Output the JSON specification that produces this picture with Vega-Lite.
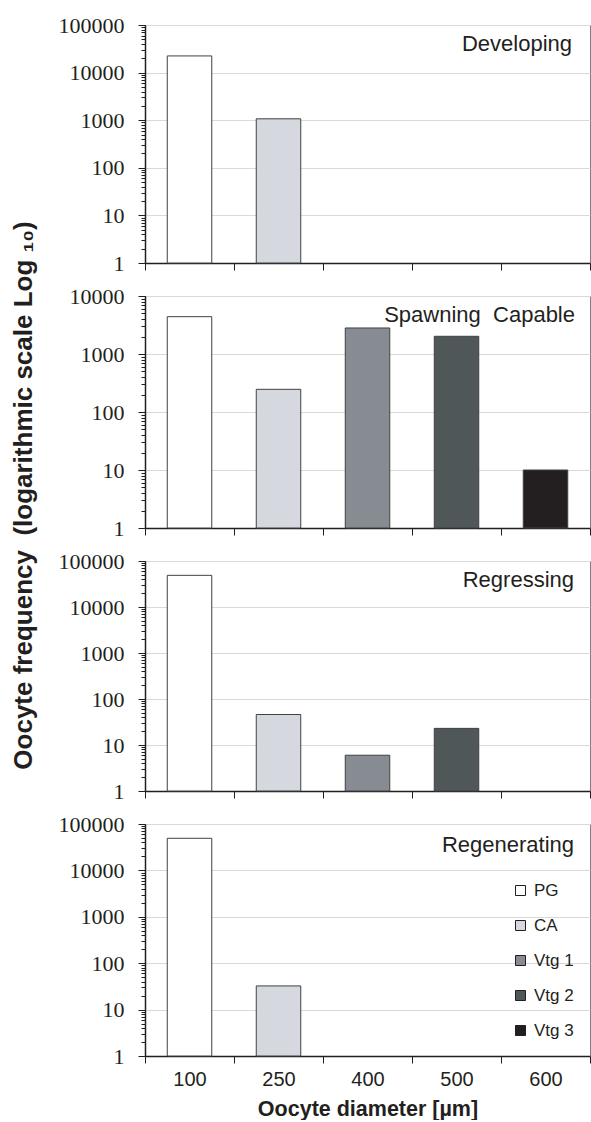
{
  "$schema": "https://vega.github.io/schema/vega-lite/v6.json",
  "padding": {"left": 9, "top": 13, "right": 0, "bottom": 0},
  "background": "white",
  "data": {"values": [
    {"panel": "Developing", "diameter": "100", "stage": "PG", "count": 22400},
    {"panel": "Developing", "diameter": "250", "stage": "CA", "count": 1070},
    {"panel": "Spawning Capable", "diameter": "100", "stage": "PG", "count": 4400},
    {"panel": "Spawning Capable", "diameter": "250", "stage": "CA", "count": 246},
    {"panel": "Spawning Capable", "diameter": "400", "stage": "Vtg 1", "count": 2810},
    {"panel": "Spawning Capable", "diameter": "500", "stage": "Vtg 2", "count": 2020},
    {"panel": "Spawning Capable", "diameter": "600", "stage": "Vtg 3", "count": 10},
    {"panel": "Regressing", "diameter": "100", "stage": "PG", "count": 48800},
    {"panel": "Regressing", "diameter": "250", "stage": "CA", "count": 46},
    {"panel": "Regressing", "diameter": "400", "stage": "Vtg 1", "count": 6},
    {"panel": "Regressing", "diameter": "500", "stage": "Vtg 2", "count": 23},
    {"panel": "Regenerating", "diameter": "100", "stage": "PG", "count": 49200},
    {"panel": "Regenerating", "diameter": "250", "stage": "CA", "count": 32.4}
  ]},
  "bounds": "flush",
  "spacing": 33,
  "resolve": {"scale": {"color": "independent", "y": "independent"}, "legend": {"color": "independent"}},
  "config": {
    "view": {"stroke": "#808080", "strokeWidth": 1},
    "font": "Liberation Sans",
    "axis": {"domainColor": "#231f20", "domainWidth": 1.5, "tickColor": "#231f20", "labelColor": "#231f20", "titleColor": "#231f20"},
    "axisY": {"labelFont": "Liberation Serif", "labelFontSize": 22, "labelPadding": 17, "labelOverlap": false, "tickCount": 100},
    "title": {"font": "Liberation Sans", "fontSize": 22, "fontWeight": "normal", "color": "#231f20", "anchor": "end", "frame": "group", "offset": -42, "dx": -16, "baseline": "alphabetic"}
  },
  "vconcat": [
    {
      "title": {"text": "Developing", "dx": -18},
      "width": 445, "height": 238,
      "transform": [{"filter": "datum.panel == 'Developing'"}],
      "encoding": {
        "x": {"field": "diameter", "type": "nominal", "scale": {"domain": ["100", "250", "400", "500", "600"], "paddingInner": 0, "paddingOuter": 0},
              "axis": {"labels": false, "title": null, "tickBand": "extent", "tickSize": 7}},
        "y2": {"datum": 1}
      },
      "layer": [
        {"mark": {"type": "bar", "stroke": "#404040", "strokeWidth": 1, "width": {"band": 0.5}},
         "encoding": {
           "y": {"field": "count", "type": "quantitative", "scale": {"type": "log", "domain": [1, 100000], "nice": false, "zero": false},
                 "axis": {"title": "Oocyte frequency\u00a0\u00a0(logarithmic scale Log ₁₀)", "titleFont": "Liberation Sans", "titleFontSize": 26, "titleFontWeight": "bold",
                          "titleAngle": -90, "titleX": -122, "titleY": 470, "titleAlign": "center", "titleBaseline": "middle",
                          "tickSize": 4,
                          "values": [1,2,3,4,5,6,7,8,9,10,20,30,40,50,60,70,80,90,100,200,300,400,500,600,700,800,900,1000,2000,3000,4000,5000,6000,7000,8000,9000,10000,20000,30000,40000,50000,60000,70000,80000,90000,100000],
                          "labelExpr": "indexof([1,10,100,1000,10000,100000], datum.value) >= 0 ? '' + datum.value : ''",
                          "grid": true, "gridColor": "#d9d9d9",
                          "gridOpacity": {"condition": {"test": "indexof([1,10,100,1000,10000,100000], datum.value) >= 0", "value": 1}, "value": 0}}},
           "color": {"field": "stage", "type": "nominal", "scale": {"domain": ["PG", "CA", "Vtg 1", "Vtg 2", "Vtg 3"], "range": ["#ffffff", "#d5d8df", "#878c92", "#505758", "#231f20"]}, "legend": null}
         }},
        {"mark": {"type": "bar", "opacity": 0, "width": {"band": 0.5}},
         "encoding": {
           "y": {"field": "count", "type": "quantitative",
                 "axis": {"orient": "left", "title": null, "labels": false, "domain": false, "grid": false, "tickSize": 7, "values": [1, 10, 100, 1000, 10000, 100000]}}
         }}
      ],
      "resolve": {"axis": {"y": "independent"}}
    },
    {
      "title": {"text": "Spawning\u00a0\u00a0Capable", "dx": -15},
      "width": 445, "height": 232,
      "transform": [{"filter": "datum.panel == 'Spawning Capable'"}],
      "encoding": {
        "x": {"field": "diameter", "type": "nominal", "scale": {"domain": ["100", "250", "400", "500", "600"], "paddingInner": 0, "paddingOuter": 0},
              "axis": {"labels": false, "title": null, "tickBand": "extent", "tickSize": 7}},
        "y2": {"datum": 1}
      },
      "layer": [
        {"mark": {"type": "bar", "stroke": "#404040", "strokeWidth": 1, "width": {"band": 0.5}},
         "encoding": {
           "y": {"field": "count", "type": "quantitative", "scale": {"type": "log", "domain": [1, 10000], "nice": false, "zero": false},
                 "axis": {"title": null, "tickSize": 4,
                          "values": [1,2,3,4,5,6,7,8,9,10,20,30,40,50,60,70,80,90,100,200,300,400,500,600,700,800,900,1000,2000,3000,4000,5000,6000,7000,8000,9000,10000],
                          "labelExpr": "indexof([1,10,100,1000,10000,100000], datum.value) >= 0 ? '' + datum.value : ''",
                          "grid": true, "gridColor": "#d9d9d9",
                          "gridOpacity": {"condition": {"test": "indexof([1,10,100,1000,10000,100000], datum.value) >= 0", "value": 1}, "value": 0}}},
           "color": {"field": "stage", "type": "nominal", "scale": {"domain": ["PG", "CA", "Vtg 1", "Vtg 2", "Vtg 3"], "range": ["#ffffff", "#d5d8df", "#878c92", "#505758", "#231f20"]}, "legend": null}
         }},
        {"mark": {"type": "bar", "opacity": 0, "width": {"band": 0.5}},
         "encoding": {
           "y": {"field": "count", "type": "quantitative",
                 "axis": {"orient": "left", "title": null, "labels": false, "domain": false, "grid": false, "tickSize": 7, "values": [1, 10, 100, 1000, 10000]}}
         }}
      ],
      "resolve": {"axis": {"y": "independent"}}
    },
    {
      "title": {"text": "Regressing"},
      "width": 445, "height": 230,
      "transform": [{"filter": "datum.panel == 'Regressing'"}],
      "encoding": {
        "x": {"field": "diameter", "type": "nominal", "scale": {"domain": ["100", "250", "400", "500", "600"], "paddingInner": 0, "paddingOuter": 0},
              "axis": {"labels": false, "title": null, "tickBand": "extent", "tickSize": 7}},
        "y2": {"datum": 1}
      },
      "layer": [
        {"mark": {"type": "bar", "stroke": "#404040", "strokeWidth": 1, "width": {"band": 0.5}},
         "encoding": {
           "y": {"field": "count", "type": "quantitative", "scale": {"type": "log", "domain": [1, 100000], "nice": false, "zero": false},
                 "axis": {"title": null, "tickSize": 4,
                          "values": [1,2,3,4,5,6,7,8,9,10,20,30,40,50,60,70,80,90,100,200,300,400,500,600,700,800,900,1000,2000,3000,4000,5000,6000,7000,8000,9000,10000,20000,30000,40000,50000,60000,70000,80000,90000,100000],
                          "labelExpr": "indexof([1,10,100,1000,10000,100000], datum.value) >= 0 ? '' + datum.value : ''",
                          "grid": true, "gridColor": "#d9d9d9",
                          "gridOpacity": {"condition": {"test": "indexof([1,10,100,1000,10000,100000], datum.value) >= 0", "value": 1}, "value": 0}}},
           "color": {"field": "stage", "type": "nominal", "scale": {"domain": ["PG", "CA", "Vtg 1", "Vtg 2", "Vtg 3"], "range": ["#ffffff", "#d5d8df", "#878c92", "#505758", "#231f20"]}, "legend": null}
         }},
        {"mark": {"type": "bar", "opacity": 0, "width": {"band": 0.5}},
         "encoding": {
           "y": {"field": "count", "type": "quantitative",
                 "axis": {"orient": "left", "title": null, "labels": false, "domain": false, "grid": false, "tickSize": 7, "values": [1, 10, 100, 1000, 10000, 100000]}}
         }}
      ],
      "resolve": {"axis": {"y": "independent"}}
    },
    {
      "title": {"text": "Regenerating", "offset": -44},
      "width": 445, "height": 232,
      "transform": [{"filter": "datum.panel == 'Regenerating'"}],
      "encoding": {
        "x": {"field": "diameter", "type": "nominal", "scale": {"domain": ["100", "250", "400", "500", "600"], "paddingInner": 0, "paddingOuter": 0},
              "axis": {"title": "Oocyte diameter [µm]", "titleFont": "Liberation Sans", "titleFontSize": 21.5, "titleFontWeight": "bold", "titlePadding": 9,
                       "labelAngle": 0, "labelFont": "Liberation Sans", "labelFontSize": 20, "labelPadding": 6, "tickBand": "extent", "tickSize": 7}},
        "y2": {"datum": 1}
      },
      "layer": [
        {"mark": {"type": "bar", "stroke": "#404040", "strokeWidth": 1, "width": {"band": 0.5}},
         "encoding": {
           "y": {"field": "count", "type": "quantitative", "scale": {"type": "log", "domain": [1, 100000], "nice": false, "zero": false},
                 "axis": {"title": null, "tickSize": 4,
                          "values": [1,2,3,4,5,6,7,8,9,10,20,30,40,50,60,70,80,90,100,200,300,400,500,600,700,800,900,1000,2000,3000,4000,5000,6000,7000,8000,9000,10000,20000,30000,40000,50000,60000,70000,80000,90000,100000],
                          "labelExpr": "indexof([1,10,100,1000,10000,100000], datum.value) >= 0 ? '' + datum.value : ''",
                          "grid": true, "gridColor": "#d9d9d9",
                          "gridOpacity": {"condition": {"test": "indexof([1,10,100,1000,10000,100000], datum.value) >= 0", "value": 1}, "value": 0}}},
           "color": {"field": "stage", "type": "nominal", "scale": {"domain": ["PG", "CA", "Vtg 1", "Vtg 2", "Vtg 3"], "range": ["#ffffff", "#d5d8df", "#878c92", "#505758", "#231f20"]},
                     "legend": {"title": null, "orient": "none", "legendX": 367, "legendY": 58, "symbolType": "square", "symbolSize": 100,
                                "symbolStrokeColor": "#231f20", "symbolStrokeWidth": 1, "labelFont": "Liberation Sans", "labelFontSize": 17,
                                "labelColor": "#231f20", "labelOffset": 5, "rowPadding": 17}}
         }},
        {"mark": {"type": "bar", "opacity": 0, "width": {"band": 0.5}},
         "encoding": {
           "y": {"field": "count", "type": "quantitative",
                 "axis": {"orient": "left", "title": null, "labels": false, "domain": false, "grid": false, "tickSize": 7, "values": [1, 10, 100, 1000, 10000, 100000]}}
         }}
      ],
      "resolve": {"axis": {"y": "independent"}}
    }
  ]
}
